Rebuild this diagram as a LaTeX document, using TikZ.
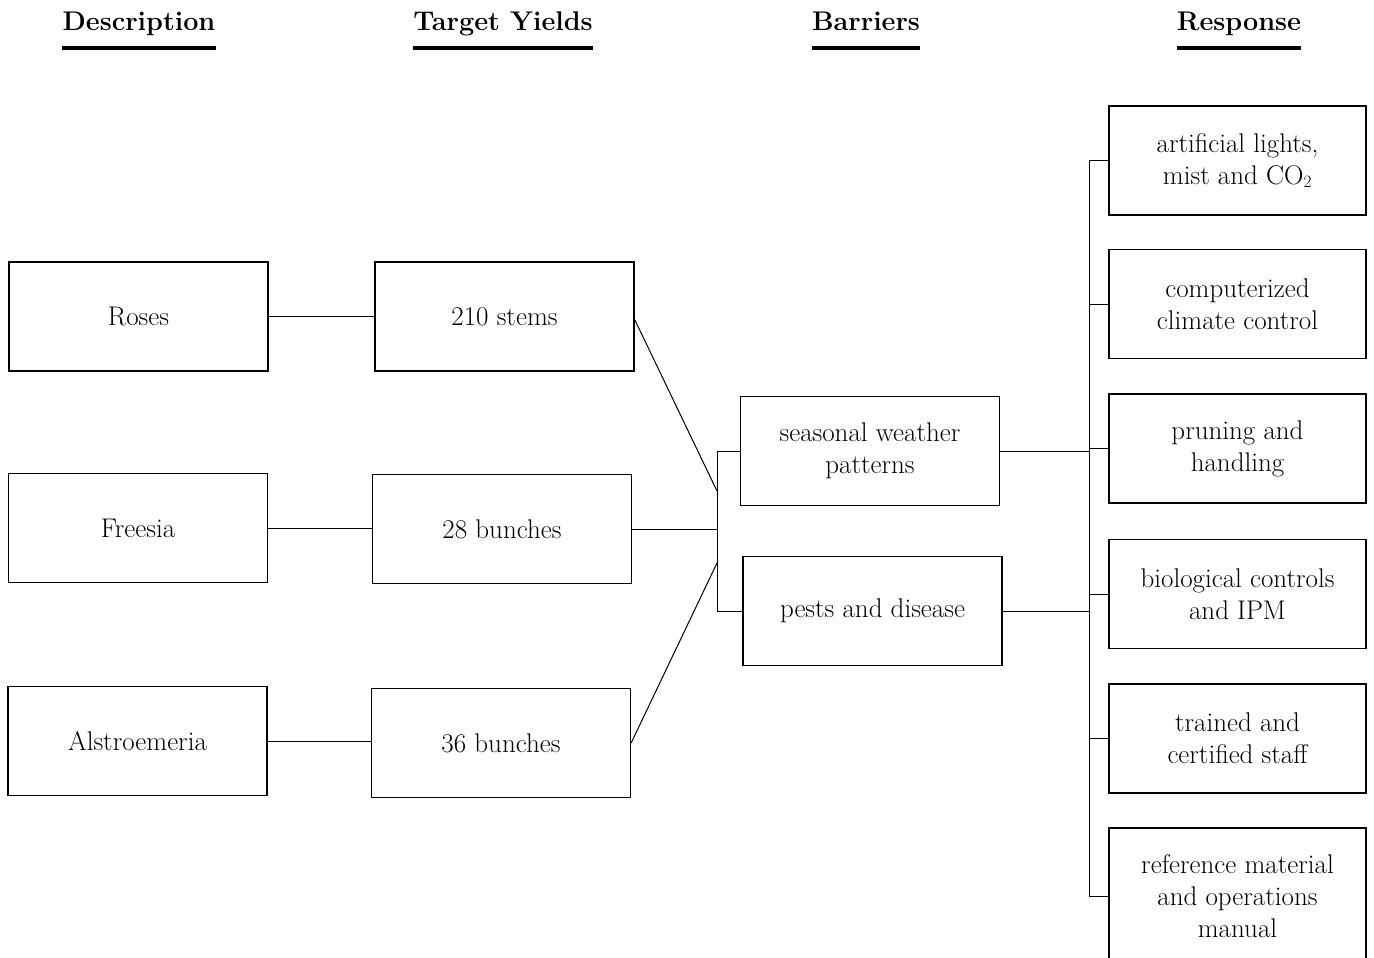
\documentclass[tikz,border=0pt]{standalone}
\usetikzlibrary{calc}
\begin{document}
\begin{tikzpicture}[x=1pt,y=-1pt,
  box/.style={draw,line width=1.3pt,minimum width=259pt,minimum height=109pt,inner sep=2pt,align=center,font=\fontsize{27}{32}\selectfont},
  hdr/.style={inner sep=0pt,anchor=base,font=\fontsize{27}{30}\selectfont\bfseries},
  conn/.style={line width=1pt},
  hline/.style={line width=3.5pt}]
\useasboundingbox (0,0) rectangle (1374,958);
% headers
\node[hdr] (h1) at (139,31) {Description};
\node[hdr] (h2) at (503,31) {Target Yields};
\node[hdr] (h3) at (866,31) {Barriers};
\node[hdr] (h4) at (1239,31) {Response};
\foreach \h in {h1,h2,h3,h4}
  \draw[hline] ([yshift=-17pt]\h.base west) -- ([yshift=-17pt]\h.base east);
% description
\node[box] (d1) at (138.5,316.5) {Roses};
\node[box] (d2) at (138,528) {Freesia};
\node[box] (d3) at (137.5,741) {Alstroemeria};
% target yields
\node[box] (t1) at (504.5,316.5) {210 stems};
\node[box] (t2) at (502,529) {28 bunches};
\node[box] (t3) at (501,743) {36 bunches};
% barriers
\node[box] (b1) at (870,451) {seasonal weather\\patterns};
\node[box] (b2) at (872.5,611) {pests and disease};
% response
\node[box,minimum width=257pt] (r1) at (1237.5,160.5) {artificial lights,\\mist and CO$_2$};
\node[box,minimum width=257pt] (r2) at (1237.5,304) {computerized\\climate control};
\node[box,minimum width=257pt] (r3) at (1237.5,448.5) {pruning and\\handling};
\node[box,minimum width=257pt] (r4) at (1237.5,594) {biological controls\\and IPM};
\node[box,minimum width=257pt] (r5) at (1237.5,738.5) {trained and\\certified staff};
\node[box,minimum width=257pt,minimum height=136pt] (r6) at (1237.5,896) {reference material\\and operations\\manual};
% connectors
\draw[conn] (d1.east) -- (d1.east -| t1.west);
\draw[conn] (d2.east) -- (d2.east -| t2.west);
\draw[conn] (d3.east) -- (d3.east -| t3.west);
\coordinate (bx) at (717,0);
\coordinate (k1) at (717,491);
\coordinate (k3) at (717,563);
\coordinate (bt) at (b1.west -| bx);
\coordinate (bb) at (b2.west -| bx);
\draw[conn] ([yshift=-3pt]t1.east) -- (k1);
\draw[conn] (t2.east) -- (t2.east -| bx);
\draw[conn] (t3.east) -- (k3);
\draw[conn] (b1.west) -- (bt) -- (bb) -- (b2.west);
\coordinate (rx) at (1089,0);
\draw[conn] (b1.east) -- (b1.east -| rx);
\draw[conn] (b2.east) -- (b2.east -| rx);
\draw[conn] (r1.west) -- (r1.west -| rx) -- (r6.west -| rx) -- (r6.west);
\foreach \r in {r2,r3,r4,r5}
  \draw[conn] (\r.west) -- (\r.west -| rx);
\end{tikzpicture}
\end{document}
